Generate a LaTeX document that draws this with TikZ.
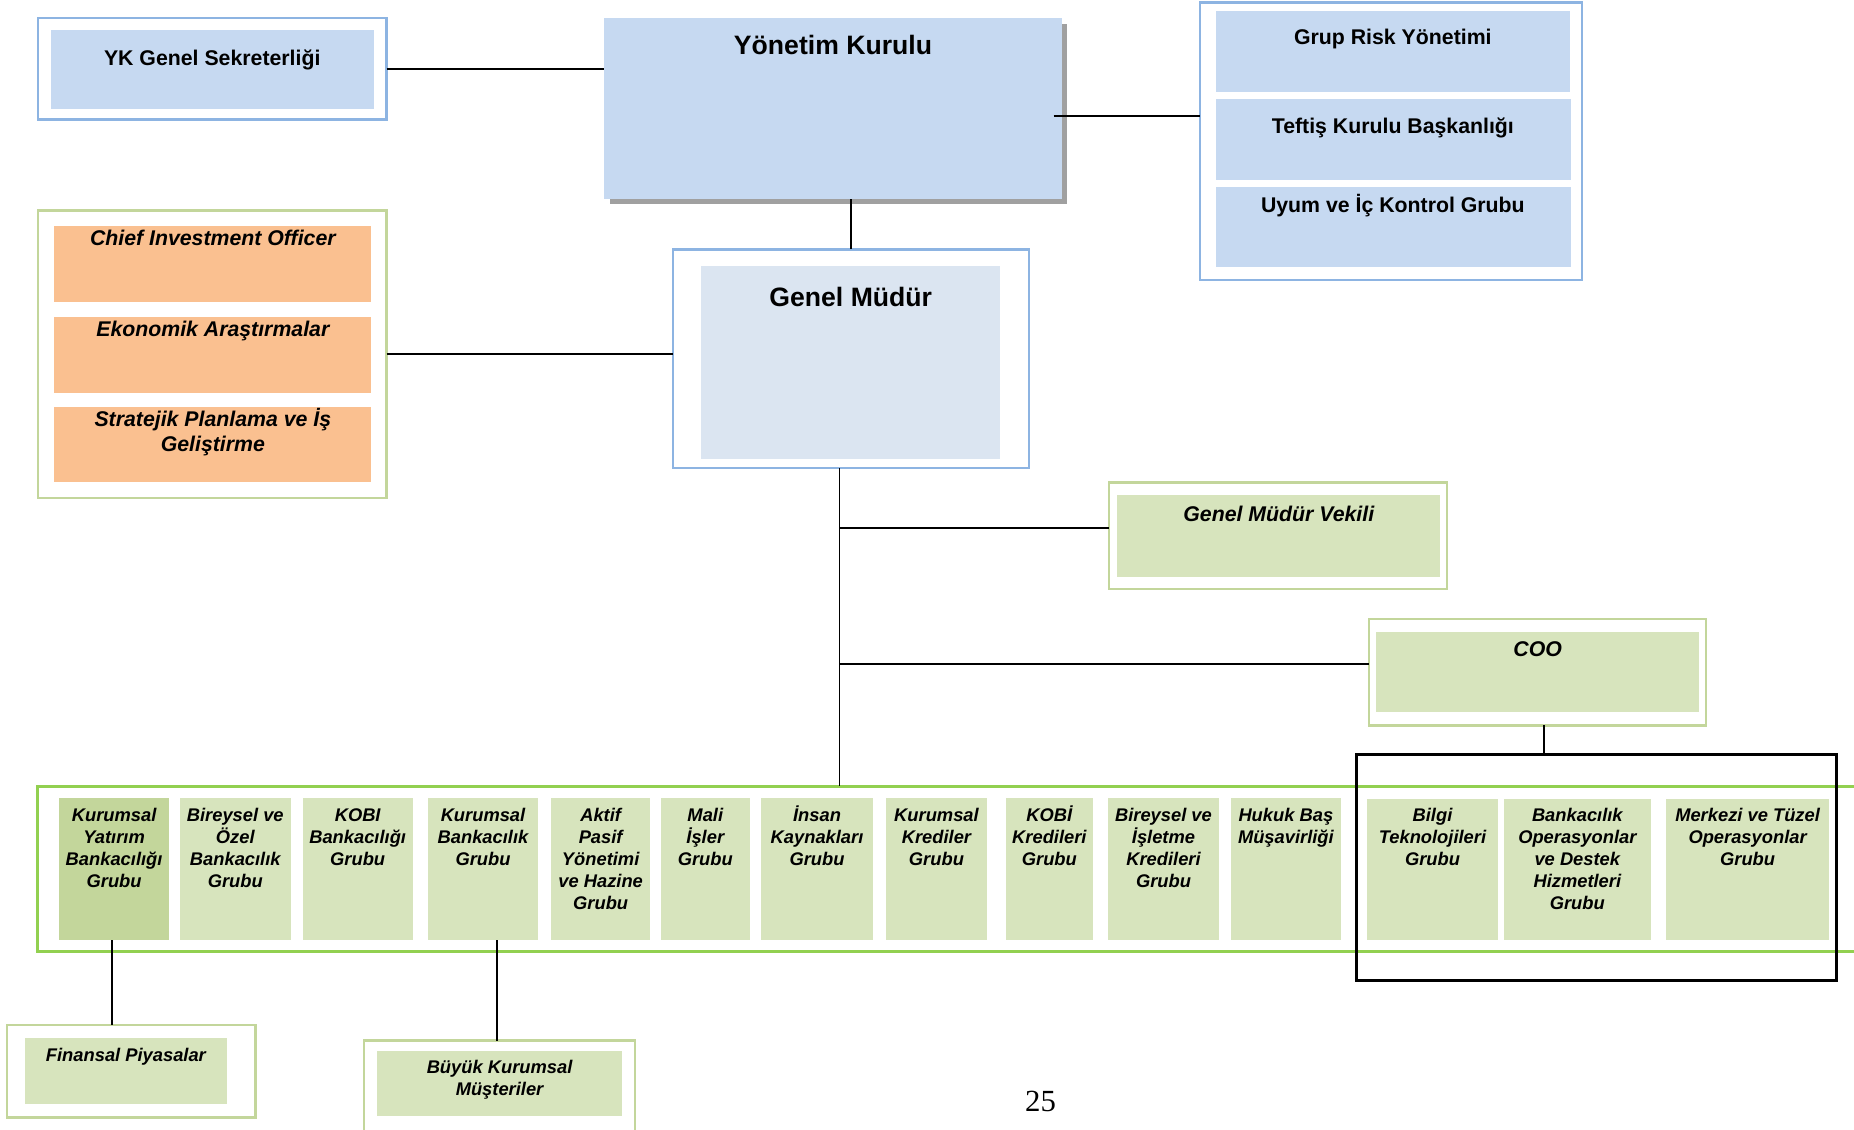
\documentclass[tikz,border=0pt]{standalone}
\usepackage{fontspec}
\setmainfont{Liberation Sans}
\newfontfamily\serifnum{Liberation Serif}
\definecolor{blueB}{HTML}{8DB4E2}
\definecolor{blueF}{HTML}{C6D9F1}
\definecolor{blueF2}{HTML}{DBE5F1}
\definecolor{orangeF}{HTML}{FAC090}
\definecolor{greenF}{HTML}{D7E4BD}
\definecolor{greenD}{HTML}{C3D69B}
\definecolor{greenB}{HTML}{C3D69B}
\definecolor{bandG}{HTML}{92D050}
\definecolor{shadowG}{HTML}{A0A0A0}
\tikzset{
 bx/.style={rectangle, inner sep=0pt, outer sep=0pt},
 frameB/.style={bx, draw=blueB, line width=2pt, fill=white},
 frameG/.style={bx, draw=greenB, line width=2pt, fill=white},
 inB/.style={bx, fill=blueF},
 inB2/.style={bx, fill=blueF2},
 inO/.style={bx, fill=orangeF},
 inG/.style={bx, fill=greenF},
 inGD/.style={bx, fill=greenD},
 shadowbox/.style={bx, fill=shadowG},
 bandbox/.style={bx, draw=bandG, line width=2.8pt},
 blkbox/.style={bx, draw=black, line width=2.3pt},
 conn/.style={draw=black, line width=1.6pt},
 txt/.style={inner sep=0pt, outer sep=0pt, anchor=north, align=center},
 tbig/.style={txt, font=\fontsize{22.5}{27}\selectfont\bfseries},
 thead/.style={txt, font=\fontsize{18}{21}\selectfont\bfseries},
 tital/.style={txt, font=\fontsize{18}{21}\selectfont\bfseries\itshape},
 tcell/.style={txt, font=\fontsize{15.5}{18.5}\selectfont\bfseries\itshape},
}
% box: name, x1, y1, x2, y2, style
\newcommand\rb[6]{\node[#6, minimum width={#4-#2}, minimum height={#5-#3}] (#1) at ({(#2+#4)/2},{(#3+#5)/2}) {};}
% text: style, name, x, baseline, size, text
\newcommand\tl[6]{\node[#1] (#2) at (#3,{#4-#5}) {\rule{0pt}{#5pt}#6};}
\begin{document}
\begin{tikzpicture}[x=1pt,y=-1pt]
\useasboundingbox (0,0) rectangle (1568,955);
\fill[white] (0,0) rectangle (1568,955);
\clip (0,0) rectangle (1568,955);

% YK Genel Sekreterligi
\rb{ykf}{32}{15}{327}{101}{frameB}
\rb{yki}{43}{25}{316}{92}{inB}
\tl{thead}{ykt}{179.5}{55}{18}{YK Genel Sekreterliği}

% Yonetim Kurulu
\rb{yonsh}{516}{20}{902}{172.5}{shadowbox}
\rb{yon}{511}{15}{898}{168.6}{inB}
\tl{tbig}{yont}{704.5}{46.5}{22.5}{Yönetim Kurulu}

% right group
\rb{rgf}{1015}{2}{1338}{237}{frameB}
\rb{rg1}{1028}{9}{1328}{78}{inB}
\rb{rg2}{1028}{84}{1329}{152}{inB}
\rb{rg3}{1028}{158}{1329}{226}{inB}
\tl{thead}{rg1t}{1178}{38}{18}{Grup Risk Yönetimi}
\tl{thead}{rg2t}{1178}{113}{18}{Teftiş Kurulu Başkanlığı}
\tl{thead}{rg3t}{1178}{180}{18}{Uyum ve İç Kontrol Grubu}

% left orange group
\rb{lgf}{32}{178}{327}{421}{frameG}
\rb{lg1}{46}{191}{314}{255}{inO}
\rb{lg2}{46}{268}{314}{332}{inO}
\rb{lg3}{46}{344}{314}{408}{inO}
\tl{tital}{lg1t}{180}{208}{18}{Chief Investment Officer}
\tl{tital}{lg2t}{180}{285}{18}{Ekonomik Araştırmalar}
\tl{tital}{lg3t}{180}{361}{18}{Stratejik Planlama ve İş\\Geliştirme}

% Genel Mudur
\rb{gmf}{569}{211}{870}{396}{frameB}
\rb{gmi}{593}{225}{846}{388}{inB2}
\tl{tbig}{gmt}{719.5}{259}{22.5}{Genel Müdür}

% Genel Mudur Vekili
\rb{gmvf}{938}{408}{1224}{498}{frameG}
\rb{gmvi}{945}{419}{1218}{488}{inG}
\tl{tital}{gmvt}{1081.5}{441}{18}{Genel Müdür Vekili}

% COO
\rb{coof}{1158}{523.5}{1443}{613.5}{frameG}
\rb{cooi}{1164}{534.5}{1437}{602.5}{inG}
\tl{tital}{coot}{1300.5}{555.5}{18}{COO}

% band
\rb{band}{32}{665}{1590}{805}{bandbox}
\rb{c1}{50}{675}{143}{795}{inGD}
\rb{c2}{152}{675}{246}{795}{inG}
\rb{c3}{256}{675}{349}{795}{inG}
\rb{c4}{362}{675}{455}{795}{inG}
\rb{c5}{466}{675}{550}{795}{inG}
\rb{c6}{559}{675}{634}{795}{inG}
\rb{c7}{644}{675}{738}{795}{inG}
\rb{c8}{749}{675}{835}{795}{inG}
\rb{c9}{851}{675}{924}{795}{inG}
\rb{c10}{937}{675}{1031}{795}{inG}
\rb{c11}{1041}{675}{1134}{795}{inG}
\rb{c12}{1156}{676}{1267}{795}{inG}
\rb{c13}{1272}{676}{1396}{795}{inG}
\rb{c14}{1409}{676}{1547}{795}{inG}
\tl{tcell}{c1t}{96.5}{695}{15.5}{Kurumsal\\Yatırım\\Bankacılığı\\Grubu}
\tl{tcell}{c2t}{199}{695}{15.5}{Bireysel ve\\Özel\\Bankacılık\\Grubu}
\tl{tcell}{c3t}{302.5}{695}{15.5}{KOBI\\Bankacılığı\\Grubu}
\tl{tcell}{c4t}{408.5}{695}{15.5}{Kurumsal\\Bankacılık\\Grubu}
\tl{tcell}{c5t}{508}{695}{15.5}{Aktif\\Pasif\\Yönetimi\\ve Hazine\\Grubu}
\tl{tcell}{c6t}{596.5}{695}{15.5}{Mali\\İşler\\Grubu}
\tl{tcell}{c7t}{691}{695}{15.5}{İnsan\\Kaynakları\\Grubu}
\tl{tcell}{c8t}{792}{695}{15.5}{Kurumsal\\Krediler\\Grubu}
\tl{tcell}{c9t}{887.5}{695}{15.5}{KOBİ\\Kredileri\\Grubu}
\tl{tcell}{c10t}{984}{695}{15.5}{Bireysel ve\\İşletme\\Kredileri\\Grubu}
\tl{tcell}{c11t}{1087.5}{695}{15.5}{Hukuk Baş\\Müşavirliği}
\tl{tcell}{c12t}{1211.5}{695}{15.5}{Bilgi\\Teknolojileri\\Grubu}
\tl{tcell}{c13t}{1334}{695}{15.5}{Bankacılık\\Operasyonlar\\ve Destek\\Hizmetleri\\Grubu}
\tl{tcell}{c14t}{1478}{695}{15.5}{Merkezi ve Tüzel\\Operasyonlar\\Grubu}

% black group box
\rb{blk}{1147.5}{638}{1553}{829}{blkbox}

% Finansal Piyasalar
\rb{fpf}{6}{867}{216}{945}{frameG}
\rb{fpi}{21}{878}{192}{934}{inG}
\tl{tcell}{fpt}{106.5}{898}{15.5}{Finansal Piyasalar}

% Buyuk Kurumsal Musteriler
\rb{bkf}{308}{880}{537}{990}{frameG}
\rb{bki}{319}{889}{526}{944}{inG}
\tl{tcell}{bkt}{422.5}{908}{15.5}{Büyük Kurumsal\\Müşteriler}

% page number
\node[anchor=base, inner sep=0pt, font=\serifnum\fontsize{26}{30}\selectfont] (pg) at (880,940) {25};

% connectors
\coordinate (yr) at (891,97.8);
\coordinate (tr) at (710,0);
\coordinate (j1) at (710,446.6);
\coordinate (j2) at (710,561.6);
\coordinate (x5) at (1306,0);
\coordinate (x1) at (95,0);
\coordinate (x4) at (420.5,0);
\draw[conn] (ykf.east) -- (ykf.east -| yon.west);
\draw[conn] (yr) -- (yr -| rgf.west);
\draw[conn] (gmf.north |- yon.south) -- (gmf.north);
\draw[conn] (lgf.east) -- (lgf.east -| gmf.west);
\draw[conn] (gmf.south -| tr) -- (band.north -| tr);
\draw[conn] (j1) -- (j1 -| gmvf.west);
\draw[conn] (j2) -- (j2 -| coof.west);
\draw[conn] (coof.south -| x5) -- (blk.north -| x5);
\draw[conn] (c1.south -| x1) -- (fpf.north -| x1);
\draw[conn] (c4.south -| x4) -- (bkf.north -| x4);
\end{tikzpicture}
\end{document}
